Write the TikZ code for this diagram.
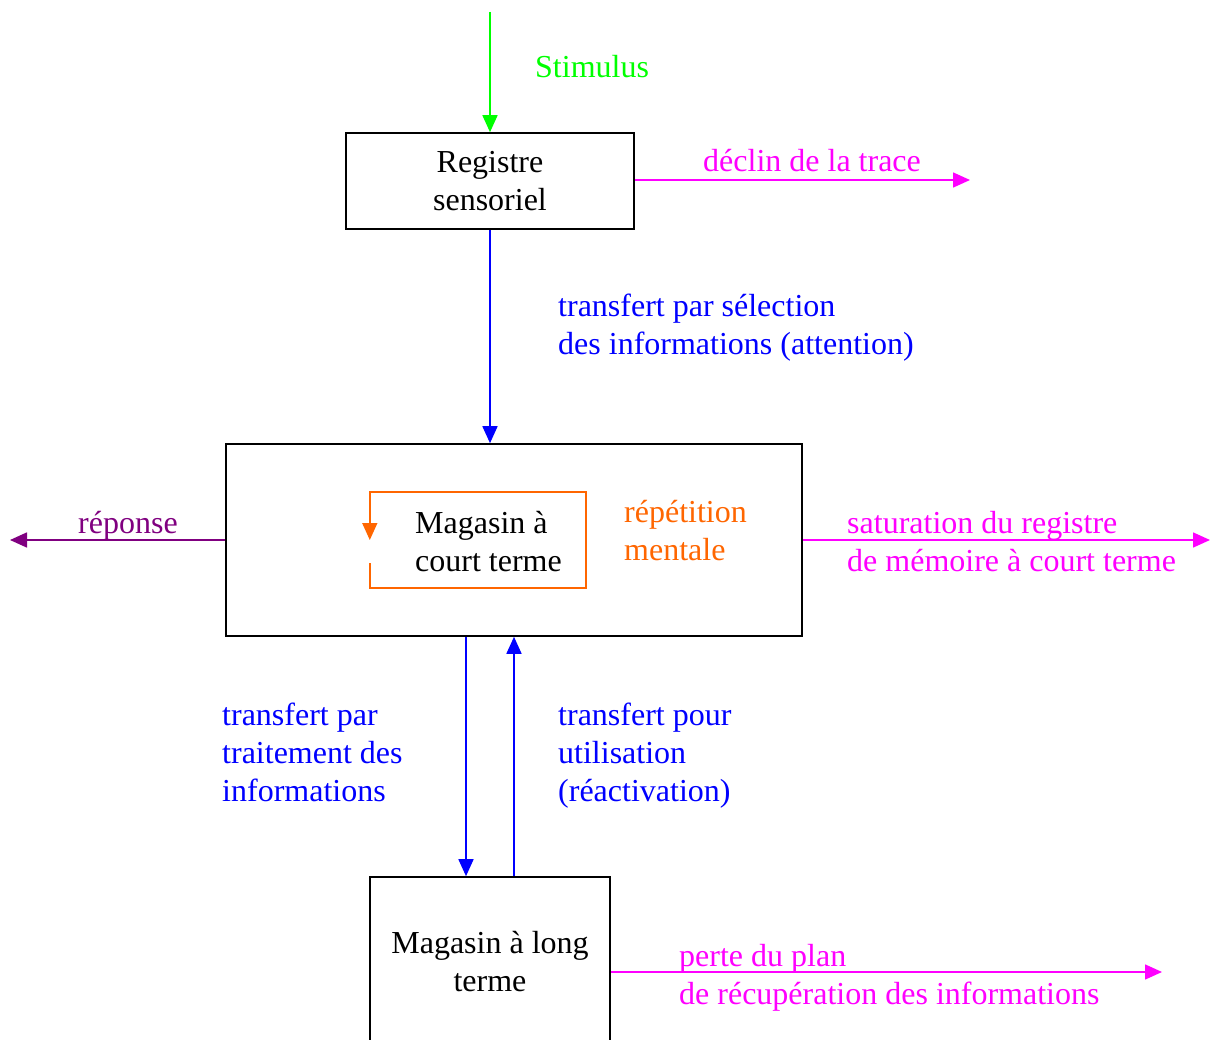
\documentclass[tikz,border=0pt]{standalone}
\usepackage{fontspec}
\setmainfont{Liberation Serif}
\usetikzlibrary{arrows.meta}
\definecolor{stimgreen}{HTML}{00FF00}
\definecolor{lossmag}{HTML}{FF00FF}
\definecolor{flowblue}{HTML}{0000FF}
\definecolor{rehorange}{HTML}{FF6600}
\definecolor{outpurple}{HTML}{800080}
\tikzset{
  memblock/.style={draw=black, line width=1.6pt, inner sep=0pt, align=center},
  lbl/.style={inner sep=0pt, align=left, anchor=base west},
  flow/.style={line width=1.6pt, -{Triangle[length=17pt,width=15pt]}},
}
\begin{document}
\begin{tikzpicture}[x=1pt, y=-1pt, font=\fontsize{32}{38}\selectfont]
\clip (0,0) rectangle (1213,1040);
\fill[white] (0,0) rectangle (1213,1040);

% memory stores
\node[memblock, minimum width=288, minimum height=96] (reg) at (490,181) {Registre\\sensoriel};
\node[memblock, minimum width=576, minimum height=192] (mct) at (514,540) {};
\node[memblock, minimum width=240, minimum height=176] (mlt) at (490,965) {};
\node[inner sep=0pt, align=center] (mlttext) at (490,962) {Magasin à long\\terme};

% rehearsal loop inside the short-term store
\node[inner sep=0pt, minimum width=216, minimum height=96] (stm) at (478,540) {};
\node[lbl] (stmtext) at (415,571) {Magasin à\\court terme};
\draw[rehorange, line width=1.6pt, -{Triangle[length=17pt,width=15pt]}]
  ([yshift=-23pt]stm.west) -- (stm.south west) -- (stm.south east)
  -- (stm.north east) -- (stm.north west) -- (stm.west);

% input
\coordinate (stimtop) at (490,12);
\draw[flow, stimgreen] (stimtop) -- (reg.north);
\node[lbl, text=stimgreen] (stimlbl) at (535,78) {Stimulus};

% decay from the sensory register
\coordinate (declinend) at (970,180);
\draw[flow, lossmag] (reg.east |- declinend) -- (declinend);
\node[lbl, text=lossmag] (declinlbl) at (703,172) {déclin de la trace};

% attention transfer
\draw[flow, flowblue] (reg.south) -- (mct.north -| reg.south);
\node[lbl, text=flowblue] (attlbl) at (558,355) {transfert par sélection\\des informations (attention)};

% rehearsal label
\node[lbl, text=rehorange] (replbl) at (624,560) {répétition\\mentale};

% response
\coordinate (repend) at (10,540);
\draw[flow, outpurple] (mct.west) -- (repend);
\node[inner sep=0pt, text=outpurple, anchor=base] (replbl2) at (128,533) {réponse};

% saturation
\coordinate (satend) at (1210,540);
\draw[flow, lossmag] (mct.east) -- (satend);
\node[lbl, text=lossmag] (satlbl) at (847,571) {saturation du registre\\de mémoire à court terme};

% transfers between short- and long-term stores
\draw[flow, flowblue] (mct.south -| 466,0) -- (mlt.north -| 466,0);
\draw[flow, flowblue] (mlt.north -| 514,0) -- (mct.south -| 514,0);
\node[lbl, text=flowblue] (encodlbl) at (222,801) {transfert par\\traitement des\\informations};
\node[lbl, text=flowblue] (retrlbl) at (558,801) {transfert pour\\utilisation\\(réactivation)};

% loss of retrieval plan
\coordinate (perteend) at (1162,972);
\draw[flow, lossmag] (mlt.east |- perteend) -- (perteend);
\node[lbl, text=lossmag] (pertelbl) at (679,1004) {perte du plan\\de récupération des informations};
\end{tikzpicture}
\end{document}
